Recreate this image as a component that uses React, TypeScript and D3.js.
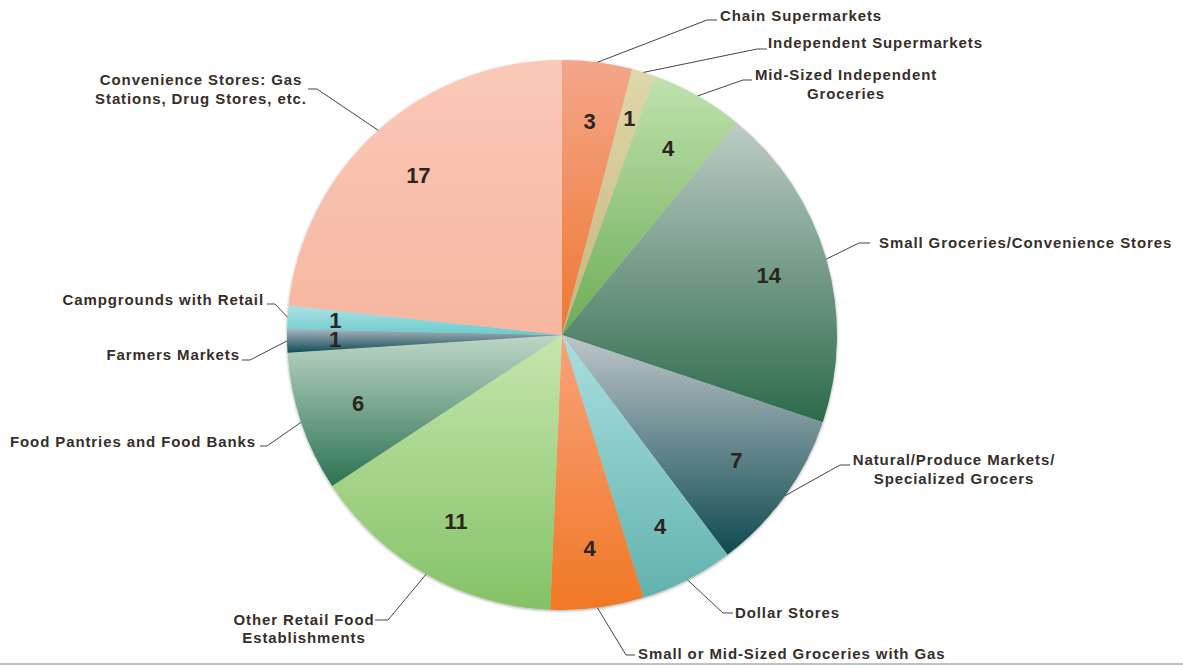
import React from 'react';
import * as d3 from 'd3';

const categories = [
  'Chain Supermarkets',
  'Independent Supermarkets',
  'Mid-Sized Independent Groceries',
  'Small Groceries/Convenience Stores',
  'Natural/Produce Markets/Specialized Grocers',
  'Dollar Stores',
  'Small or Mid-Sized Groceries with Gas',
  'Other Retail Food Establishments',
  'Food Pantries and Food Banks',
  'Farmers Markets',
  'Campgrounds with Retail',
  'Convenience Stores: Gas Stations, Drug Stores, etc.',
];
const values = [3, 1, 4, 14, 7, 4, 4, 11, 6, 1, 1, 17];
const labelLines = [
  ['Chain Supermarkets'],
  ['Independent Supermarkets'],
  ['Mid-Sized Independent', 'Groceries'],
  ['Small Groceries/Convenience Stores'],
  ['Natural/Produce Markets/', 'Specialized Grocers'],
  ['Dollar Stores'],
  ['Small or Mid-Sized Groceries with Gas'],
  ['Other Retail Food', 'Establishments'],
  ['Food Pantries and Food Banks'],
  ['Farmers Markets'],
  ['Campgrounds with Retail'],
  ['Convenience Stores: Gas', 'Stations, Drug Stores, etc.'],
];
const colorTop = [
  '#F4A68A', '#E0D8AA', '#C0E2AE', '#BECCC6', '#BEC6CA', '#AAE0E0',
  '#F8A27C', '#C6E6AC', '#BED6C6', '#AAB4BC', '#AEE2E4', '#FAC9B7',
];
const colorBottom = [
  '#EE7832', '#C6B47C', '#6CAD55', '#2B6A49', '#0E4A50', '#62B2AE',
  '#F07824', '#84C266', '#2B7352', '#0E4C58', '#6ACACC', '#F6B6A0',
];

const W = 1183;
const H = 667;
const CX = 562;
const CY = 335;
const R = 275;

type Layout = {
  elbow: [number, number];
  end: [number, number];
  anchor: 'start' | 'middle' | 'end';
  x: number;
  y: number[];
};

const labelLayout: Layout[] = [
  { elbow: [707, 20], end: [717, 20], anchor: 'start', x: 720, y: [20.5] },
  { elbow: [757, 49], end: [767, 49], anchor: 'start', x: 768, y: [48] },
  { elbow: [743, 80], end: [752, 80], anchor: 'middle', x: 846, y: [80, 99] },
  { elbow: [859, 243], end: [870, 243], anchor: 'start', x: 879, y: [248] },
  { elbow: [840, 465], end: [850, 465], anchor: 'middle', x: 954, y: [465, 483.5] },
  { elbow: [723, 613], end: [733, 613], anchor: 'start', x: 735, y: [618] },
  { elbow: [626, 655], end: [635, 655], anchor: 'start', x: 638, y: [659] },
  { elbow: [388, 620], end: [375, 620], anchor: 'middle', x: 304, y: [625, 643] },
  { elbow: [267, 446], end: [260, 446], anchor: 'end', x: 256, y: [447] },
  { elbow: [250, 360], end: [242, 360], anchor: 'end', x: 240, y: [360] },
  { elbow: [275, 304], end: [267, 304], anchor: 'end', x: 264, y: [305] },
  { elbow: [317, 89], end: [308, 89], anchor: 'middle', x: 201, y: [85, 103.5] },
];

export default function App() {
  const pie = d3
    .pie<number>()
    .sort(null)
    .value((d) => d)
    .startAngle(0)
    .endAngle(2 * Math.PI);
  const arcs = pie(values);
  const arcGen = d3.arc<d3.PieArcDatum<number>>().innerRadius(0).outerRadius(R);
  const edgeArc = d3.arc<d3.PieArcDatum<number>>().innerRadius(R).outerRadius(R);
  const numArc = d3.arc<d3.PieArcDatum<number>>().innerRadius(215).outerRadius(215);
  const numArcSmall = d3.arc<d3.PieArcDatum<number>>().innerRadius(227).outerRadius(227);
  const line = d3.line();

  return (
    <svg
      width={W}
      height={H}
      style={{ position: 'absolute', left: 0, top: 0, display: 'block', background: '#fff' }}
    >
      <defs>
        {categories.map((c, i) => (
          <linearGradient key={c} id={`g${i}`} x1="0" y1="0" x2="0" y2="1">
            <stop offset="0" stopColor={colorTop[i]} />
            <stop offset="1" stopColor={colorBottom[i]} />
          </linearGradient>
        ))}
        <filter id="shadow" x="-10%" y="-10%" width="120%" height="120%">
          <feDropShadow dx="0" dy="1" stdDeviation="1.6" floodColor="#000" floodOpacity="0.35" />
        </filter>
      </defs>
      <rect x={0} y={663} width={W} height={2} fill="#C2C2C2" />
      <g transform={`translate(${CX},${CY})`}>
        <g filter="url(#shadow)">
          {arcs.map((a, i) => (
            <path key={categories[i]} d={arcGen(a) || ''} fill={`url(#g${i})`} />
          ))}
        </g>
        {arcs.map((a, i) => {
          const [nx, ny] = (a.data === 1 ? numArcSmall : numArc).centroid(a);
          return (
            <text
              key={'n' + i}
              x={nx}
              y={ny}
              textAnchor="middle"
              dominantBaseline="central"
              fontFamily="'Liberation Sans', Arial, sans-serif"
              fontWeight="bold"
              fontSize={22}
              fill="#2B2421"
            >
              {values[i]}
            </text>
          );
        })}
      </g>
      {arcs.map((a, i) => {
        const [ex, ey] = edgeArc.centroid(a);
        const L = labelLayout[i];
        const d = line([
          [ex + CX, ey + CY],
          L.elbow,
          L.end,
        ]);
        return (
          <g key={'l' + i}>
            <path d={d || ''} fill="none" stroke="#4A4442" strokeWidth={1} />
            {labelLines[i].map((t, j) => (
              <text
                key={j}
                x={L.x}
                y={L.y[j]}
                textAnchor={L.anchor}
                fontFamily="'Liberation Sans', Arial, sans-serif"
                fontWeight="bold"
                fontSize={15}
                letterSpacing={0.9}
                fill="#382E29"
              >
                {t}
              </text>
            ))}
          </g>
        );
      })}
    </svg>
  );
}
